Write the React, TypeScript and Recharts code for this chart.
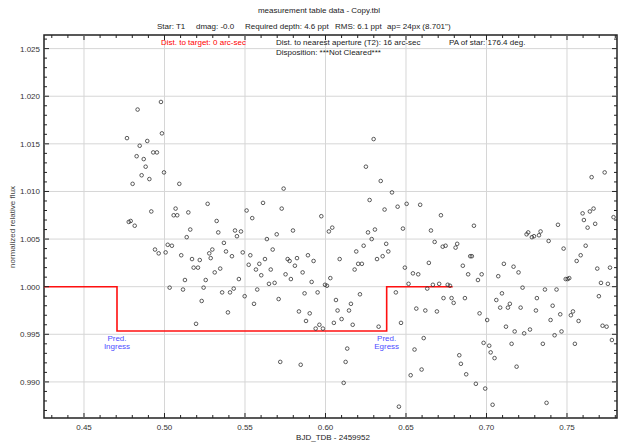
import {
  ScatterChart,
  Scatter,
  XAxis,
  YAxis,
  ReferenceLine,
  ReferenceArea,
  ReferenceDot,
} from 'recharts'

// BJD_TDB - 2459952 of each measurement
const bjd = [
  0.4978, 0.4833, 0.4984, 0.4767, 0.4893, 0.4846, 0.493, 0.4953, 0.4827, 0.4871,
  0.4883, 0.4997, 0.4858, 0.4906, 0.4802, 0.5092, 0.5268, 0.4918, 0.5069, 0.5057,
  0.5079, 0.5148, 0.479, 0.4778, 0.4815, 0.5324, 0.516, 0.5334, 0.5138, 0.5369,
  0.502, 0.5046, 0.4941, 0.4964, 0.5007, 0.5104, 0.5297, 0.5278, 0.5287, 0.5171,
  0.5219, 0.5181, 0.5208, 0.5346, 0.5312, 0.5127, 0.5256, 0.5032, 0.5115, 0.5243,
  0.5358, 0.5231, 0.5196,
  0.574, 0.5612, 0.551, 0.5728, 0.5545, 0.5974, 0.5438, 0.5475, 0.545, 0.5636,
  0.5697, 0.5798, 0.6042, 0.6021, 0.5382, 0.5419, 0.5486, 0.5533, 0.5672, 0.5624,
  0.5765, 0.5777, 0.5823, 0.5891, 0.5926, 0.6088, 0.5523, 0.5589, 0.5568, 0.566,
  0.5601, 0.581, 0.5752, 0.5858, 0.5785, 0.5462, 0.5649, 0.5684, 0.5914, 0.5997,
  0.6009, 0.603, 0.5407, 0.543, 0.5576, 0.5498, 0.5709, 0.587, 0.5951, 0.5556,
  0.5394, 0.5835, 0.5902, 0.5879, 0.5939, 0.5962, 0.5984, 0.6065, 0.6075, 0.61,
  0.6052, 0.6146, 0.6135, 0.6125, 0.6113, 0.5719, 0.5846,
  0.6299, 0.6251, 0.6343, 0.6413, 0.6274, 0.6367, 0.6448, 0.6504, 0.6588, 0.6717,
  0.6922, 0.6264, 0.6307, 0.6287, 0.6481, 0.6655, 0.6237, 0.6377, 0.639, 0.6191,
  0.6355, 0.632, 0.6203, 0.6226, 0.6181, 0.6493, 0.6543, 0.6576, 0.6678, 0.6728,
  0.6746, 0.6808, 0.6818, 0.6899, 0.6909, 0.6642, 0.6853, 0.6886, 0.697, 0.6947,
  0.6516, 0.6632, 0.6667, 0.6706, 0.6759, 0.6773, 0.6214, 0.6437, 0.6158, 0.6733,
  0.6783, 0.6796, 0.6866, 0.6564, 0.662, 0.6692, 0.6957, 0.6169, 0.633, 0.6469,
  0.661, 0.6982, 0.6553, 0.6831, 0.6841, 0.6597, 0.6529, 0.6874, 0.6934, 0.6456,
  0.7734, 0.7653, 0.7597, 0.7642, 0.7665, 0.7605, 0.7675, 0.7628, 0.7789, 0.7444,
  0.7249, 0.7259, 0.7282, 0.7295, 0.7326, 0.7336, 0.7386, 0.7479, 0.7616, 0.7585,
  0.756, 0.7108, 0.7168, 0.7199, 0.7073, 0.7688, 0.7767, 0.7492, 0.7504, 0.7514,
  0.7711, 0.7754, 0.7224, 0.7096, 0.7363, 0.7435, 0.7698, 0.7061, 0.7145, 0.7313,
  0.7085, 0.7133, 0.7212, 0.7411, 0.7307, 0.7004, 0.7398, 0.7458, 0.7537, 0.7524,
  0.7572, 0.7121, 0.7175, 0.7234, 0.727, 0.7423, 0.7466, 0.7721, 0.7746, 0.7779,
  0.7017, 0.7156, 0.735, 0.7549, 0.7026, 0.705, 0.7187, 0.6992, 0.7038, 0.7373,
]

// normalized relative flux, same order as bjd
const flux = [
  1.0194, 1.0186, 1.0161, 1.0156, 1.0153, 1.0148, 1.0141, 1.0141, 1.0137, 1.0134,
  1.0126, 1.012, 1.0117, 1.0113, 1.0108, 1.0108, 1.0087, 1.0079, 1.0082, 1.0075,
  1.0075, 1.0078, 1.0069, 1.0068, 1.0064, 1.0069, 1.006, 1.0057, 1.0052, 1.0046,
  1.0044, 1.0043, 1.0039, 1.0035, 1.0036, 1.0033, 1.0039, 1.0035, 1.003, 1.0029,
  1.0028, 1.002, 1.002, 1.0019, 1.0015, 1.0007, 1.0007, 0.9999, 0.9997, 0.9999,
  0.9994, 0.9985, 0.9961,
  1.0103, 1.0088, 1.008, 1.0082, 1.0072, 1.0074, 1.0059, 1.0058, 1.0053, 1.005,
  1.0055, 1.0059, 1.0062, 1.0058, 1.0037, 1.0032, 1.0036, 1.0033, 1.0039, 1.0029,
  1.0029, 1.0027, 1.003, 1.0033, 1.0027, 1.0029, 1.0023, 1.0024, 1.0018, 1.0018,
  1.0012, 1.0022, 1.0013, 1.0015, 1.0008, 1.0008, 1.0003, 1.0004, 1.0005, 1.0002,
  1.0001, 1.0009, 0.9994, 0.9998, 0.9997, 0.999, 0.9987, 0.9993, 0.9994, 0.9982,
  0.9973, 0.9974, 0.9972, 0.9964, 0.9956, 0.996, 0.9956, 0.9986, 0.9975, 0.9966,
  0.9962, 0.9975, 0.9935, 0.9921, 0.9899, 0.9921, 0.9918,
  1.0155, 1.0126, 1.0111, 1.0099, 1.0091, 1.0081, 1.0084, 1.0087, 1.0086, 1.0075,
  1.0064, 1.0057, 1.006, 1.005, 1.0061, 1.0059, 1.0043, 1.0045, 1.0037, 1.0037,
  1.0032, 1.0029, 1.0024, 1.0024, 1.0018, 1.002, 1.0014, 1.0013, 1.0047, 1.0042,
  1.0043, 1.0041, 1.0045, 1.0032, 1.0032, 1.0025, 1.0022, 1.0013, 1.0013, 1.0007,
  1.0003, 0.9998, 1.0002, 1.0003, 1.0002, 1.0001, 0.9992, 0.9994, 0.9982, 0.9988,
  0.9988, 0.9983, 0.9988, 0.9977, 0.9975, 0.9974, 0.9972, 0.996, 0.9958, 0.9962,
  0.9946, 0.9941, 0.9934, 0.9928, 0.9919, 0.9913, 0.9907, 0.9908, 0.9898, 0.9874,
  1.012, 1.0115, 1.0077, 1.0079, 1.0082, 1.007, 1.0066, 1.0062, 1.0073, 1.0065,
  1.0055, 1.0057, 1.0052, 1.0053, 1.0054, 1.0058, 1.0048, 1.004, 1.0043, 1.0033,
  1.0027, 1.0024, 1.0021, 1.0015, 1.0011, 1.0019, 1.002, 1.0008, 1.0008, 1.0009,
  1.0004, 1.0003, 0.9999, 0.9993, 0.9997, 0.9997, 0.999, 0.9986, 0.9982, 0.9988,
  0.9978, 0.9978, 0.9978, 0.998, 0.9975, 0.9965, 0.9965, 0.9971, 0.9974, 0.997,
  0.9964, 0.9958, 0.9953, 0.9951, 0.9955, 0.9949, 0.9953, 0.9959, 0.9958, 0.9944,
  0.9938, 0.994, 0.994, 0.994, 0.9931, 0.9925, 0.9916, 0.9893, 0.9876, 0.9878,
]

// predicted transit model (red step)
const modelT = [0.42516, 0.4705, 0.4705, 0.638, 0.638, 0.679]
const modelF = [1.0, 1.0, 0.99535, 0.99535, 1.0, 1.0]
const ingressT = 0.4705
const egressT = 0.638

const xMajor = [0.45, 0.5, 0.55, 0.6, 0.65, 0.7, 0.75]
const yMajor = [0.99, 0.995, 1.0, 1.005, 1.01, 1.015, 1.02, 1.025]
const xDomain = [0.42516, 0.78106]
const yDomain = [0.98621, 1.02643]

const xTicks: number[] = []
for (let i = 43; i <= 78; i++) xTicks.push(i / 100)
const yTicks: number[] = []
for (let i = 987; i <= 1026; i++) yTicks.push(i / 1000)

const points = bjd.map((t, i) => ({ t, f: flux[i] }))
const model = modelT.map((t, i) => ({ t, f: modelF[i] }))

const PLOT_W = 573
const PLOT_H = 383
const FONT = '"Liberation Sans", Arial, sans-serif'
const INK = '#222'

const isMajor = (list: number[], v: number) => list.some((m) => Math.abs(m - v) < 1e-7)

function XTick(props: any) {
  const { x, y, payload } = props
  const major = isMajor(xMajor, payload.value)
  const len = major ? 5 : 3
  return (
    <g>
      <line x1={x} x2={x} y1={y} y2={y - len} stroke={INK} />
      <line x1={x} x2={x} y1={y - PLOT_H} y2={y - PLOT_H + len} stroke={INK} />
      {major && (
        <text x={x} y={y + 12} textAnchor="middle" fontSize={8} fill="#333" fontFamily={FONT}>
          {payload.value.toFixed(2)}
        </text>
      )}
    </g>
  )
}

function YTick(props: any) {
  const { x, y, payload } = props
  const major = isMajor(yMajor, payload.value)
  const len = major ? 5 : 3
  return (
    <g>
      <line x1={x} x2={x + len} y1={y} y2={y} stroke={INK} />
      <line x1={x + PLOT_W} x2={x + PLOT_W - len} y1={y} y2={y} stroke={INK} />
      {major && (
        <text x={x - 4} y={y + 3} textAnchor="end" fontSize={8} fill="#333" fontFamily={FONT}>
          {payload.value.toFixed(3)}
        </text>
      )}
    </g>
  )
}

function PredLabel(word: string) {
  return (props: any) => {
    const vb = props.viewBox || {}
    const cx = vb.x + (vb.width || 0) / 2
    const cy = vb.y + (vb.height || 0) / 2
    return (
      <text textAnchor="middle" fontSize={8} fill="#4d4dff" fontFamily={FONT}>
        <tspan x={cx} y={cy + 10}>Pred.</tspan>
        <tspan x={cx} y={cy + 18}>{word}</tspan>
      </text>
    )
  }
}

function Header() {
  const t = { fontSize: 8, fontFamily: FONT, fill: '#222' }
  return (
    <svg
      width={632}
      height={445}
      style={{ position: 'absolute', left: 0, top: 0, pointerEvents: 'none' }}
    >
      <text x={319} y={13} textAnchor="middle" {...t}>measurement table data - Copy.tbl</text>
      <text x={157} y={29} {...t}>Star: T1</text>
      <text x={196} y={29} {...t}>dmag: -0.0</text>
      <text x={245} y={29} {...t}>Required depth: 4.6 ppt</text>
      <text x={335} y={29} {...t}>RMS: 6.1 ppt</text>
      <text x={387} y={29} {...t}>ap= 24px (8.701")</text>
      <text x={161} y={45} {...t} fill="#ff0000">Dist. to target: 0 arc-sec</text>
      <text x={276} y={45} {...t}>Dist. to nearest aperture (T2): 16 arc-sec</text>
      <text x={449} y={45} {...t}>PA of star: 176.4 deg.</text>
      <text x={276} y={55} {...t}>Disposition: ***Not Cleared***</text>
      <text x={333} y={440} textAnchor="middle" {...t}>BJD_TDB - 2459952</text>
      <text x={15} y={227} textAnchor="middle" transform="rotate(-90 15 227)" {...t} fill="#444">
        normalized relative flux
      </text>
    </svg>
  )
}

export default function App() {
  return (
    <div style={{ position: 'absolute', left: 0, top: 0, width: 632, height: 445, background: '#fff' }}>
      <ScatterChart
        width={632}
        height={445}
        margin={{ top: 35, right: 15, bottom: 0, left: 0 }}
        style={{ fontFamily: FONT }}
      >
        <XAxis
          type="number"
          dataKey="t"
          domain={xDomain}
          ticks={xTicks}
          interval={0}
          allowDataOverflow
          height={27}
          tickSize={0}
          tickMargin={0}
          tickLine={false}
          axisLine={false}
          tick={(p: any) => <XTick {...p} />}
        />
        <YAxis
          type="number"
          dataKey="f"
          domain={yDomain}
          ticks={yTicks}
          interval={0}
          allowDataOverflow
          width={44}
          tickSize={0}
          tickMargin={0}
          tickLine={false}
          axisLine={false}
          tick={(p: any) => <YTick {...p} />}
        />
        {xMajor.map((v) => (
          <ReferenceLine key={'gx' + v} x={v} stroke="#d6d6d6" strokeWidth={1} />
        ))}
        {yMajor.map((v) => (
          <ReferenceLine key={'gy' + v} y={v} stroke="#d6d6d6" strokeWidth={1} />
        ))}
        <Scatter
          data={model}
          line={{ stroke: '#ff1010', strokeWidth: 1.6 }}
          lineType="joint"
          shape={() => <g />}
          isAnimationActive={false}
        />
        <Scatter
          data={points}
          shape={(p: any) => (
            <circle cx={p.cx} cy={p.cy} r={1.8} fill="none" stroke="#333" strokeWidth={0.8} />
          )}
          isAnimationActive={false}
        />
        <ReferenceDot x={ingressT} y={modelF[2]} r={0} fill="none" stroke="none" label={PredLabel('Ingress')} />
        <ReferenceDot x={egressT} y={modelF[2]} r={0} fill="none" stroke="none" label={PredLabel('Egress')} />
        <ReferenceArea
          x1={xDomain[0]}
          x2={xDomain[1]}
          y1={yDomain[0]}
          y2={yDomain[1]}
          fill="none"
          stroke={INK}
          strokeWidth={1.5}
          ifOverflow="visible"
        />
      </ScatterChart>
      <Header />
    </div>
  )
}
